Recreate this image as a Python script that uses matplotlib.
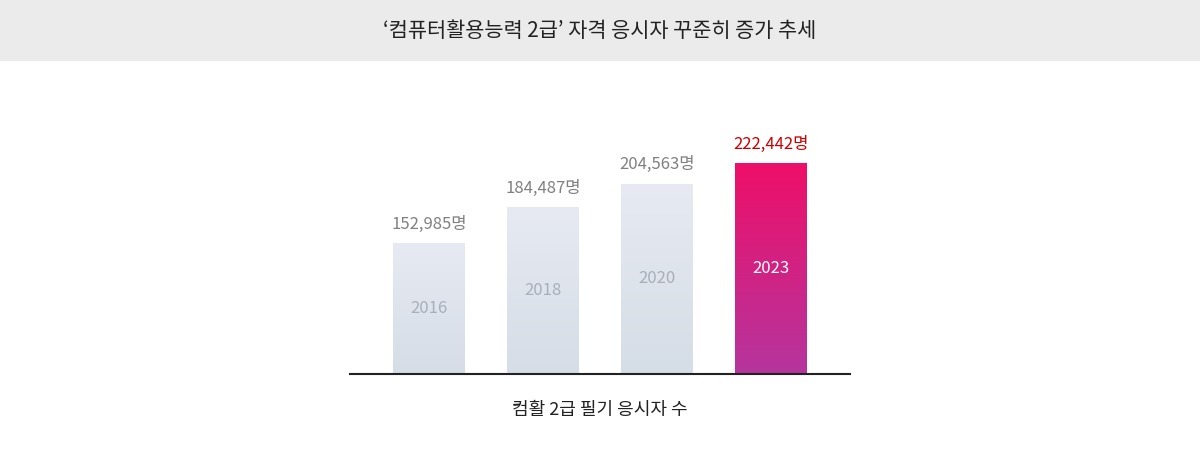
import matplotlib
matplotlib.use("Agg")
import matplotlib.pyplot as plt
import numpy as np
from matplotlib.colors import LinearSegmentedColormap

plt.rcParams["font.family"] = "Noto Sans CJK KR"

years = ["2016", "2018", "2020", "2023"]
values = [152985, 184487, 204563, 222442]
title = "‘컴퓨터활용능력 2급’ 자격 응시자 꾸준히 증가 추세"
xlabel = "컴활 2급 필기 응시자 수"

W, H = 1200, 462
fig = plt.figure(figsize=(W/100, H/100), dpi=100)
fig.patch.set_facecolor("white")
# title band
fig.patches.append(plt.Rectangle((0, 1-60/H), 1, 60/H, transform=fig.transFigure,
                                 color="#ebebeb", zorder=0))
fig.text(0.5, 1-31/H, title, ha="center", va="center", fontsize=15, color="#222222", fontweight="medium")

ax = fig.add_axes([350/W, 1-374/H, 500/W, 274/H])
ax.set_xlim(-0.693, 3.693)
ymin, ymax = 40000, 276900
ax.set_ylim(ymin, ymax)
for s in ["top", "right", "left"]:
    ax.spines[s].set_visible(False)
ax.spines["bottom"].set_linewidth(1.5)
ax.spines["bottom"].set_color("#222222")
ax.set_xticks([]); ax.set_yticks([])

gray = LinearSegmentedColormap.from_list("g", ["#d5dde6", "#e7eaf2"])
red = LinearSegmentedColormap.from_list("r", ["#b5359e", "#ee0f68"])
bw = 0.63
grad = np.linspace(0, 1, 256).reshape(-1, 1)
for i, (y, v) in enumerate(zip(years, values)):
    last = i == len(years) - 1
    bar = ax.bar(i, v - ymin, bw, bottom=ymin, color="none", edgecolor="none")[0]
    im = ax.imshow(grad, cmap=red if last else gray, origin="lower", aspect="auto",
                   extent=(i - bw/2, i + bw/2, ymin, v), zorder=1)
    im.set_clip_path(bar)
    ax.text(i, (v + ymin)/2, y, ha="center", va="center", fontsize=12,
            color="white" if last else "#a9afba", zorder=3)
    ax.text(i, v + 9000, f"{v:,}명", ha="center", va="bottom", fontsize=12,
            color="#cc0000" if last else "#808080", zorder=3)
ax.set_xlim(-0.693, 3.693)
ax.set_ylim(ymin, ymax)
fig.text(0.5, 1-410/H, xlabel, ha="center", va="center", fontsize=13, color="#222222")

fig.savefig("out.png", dpi=100)
